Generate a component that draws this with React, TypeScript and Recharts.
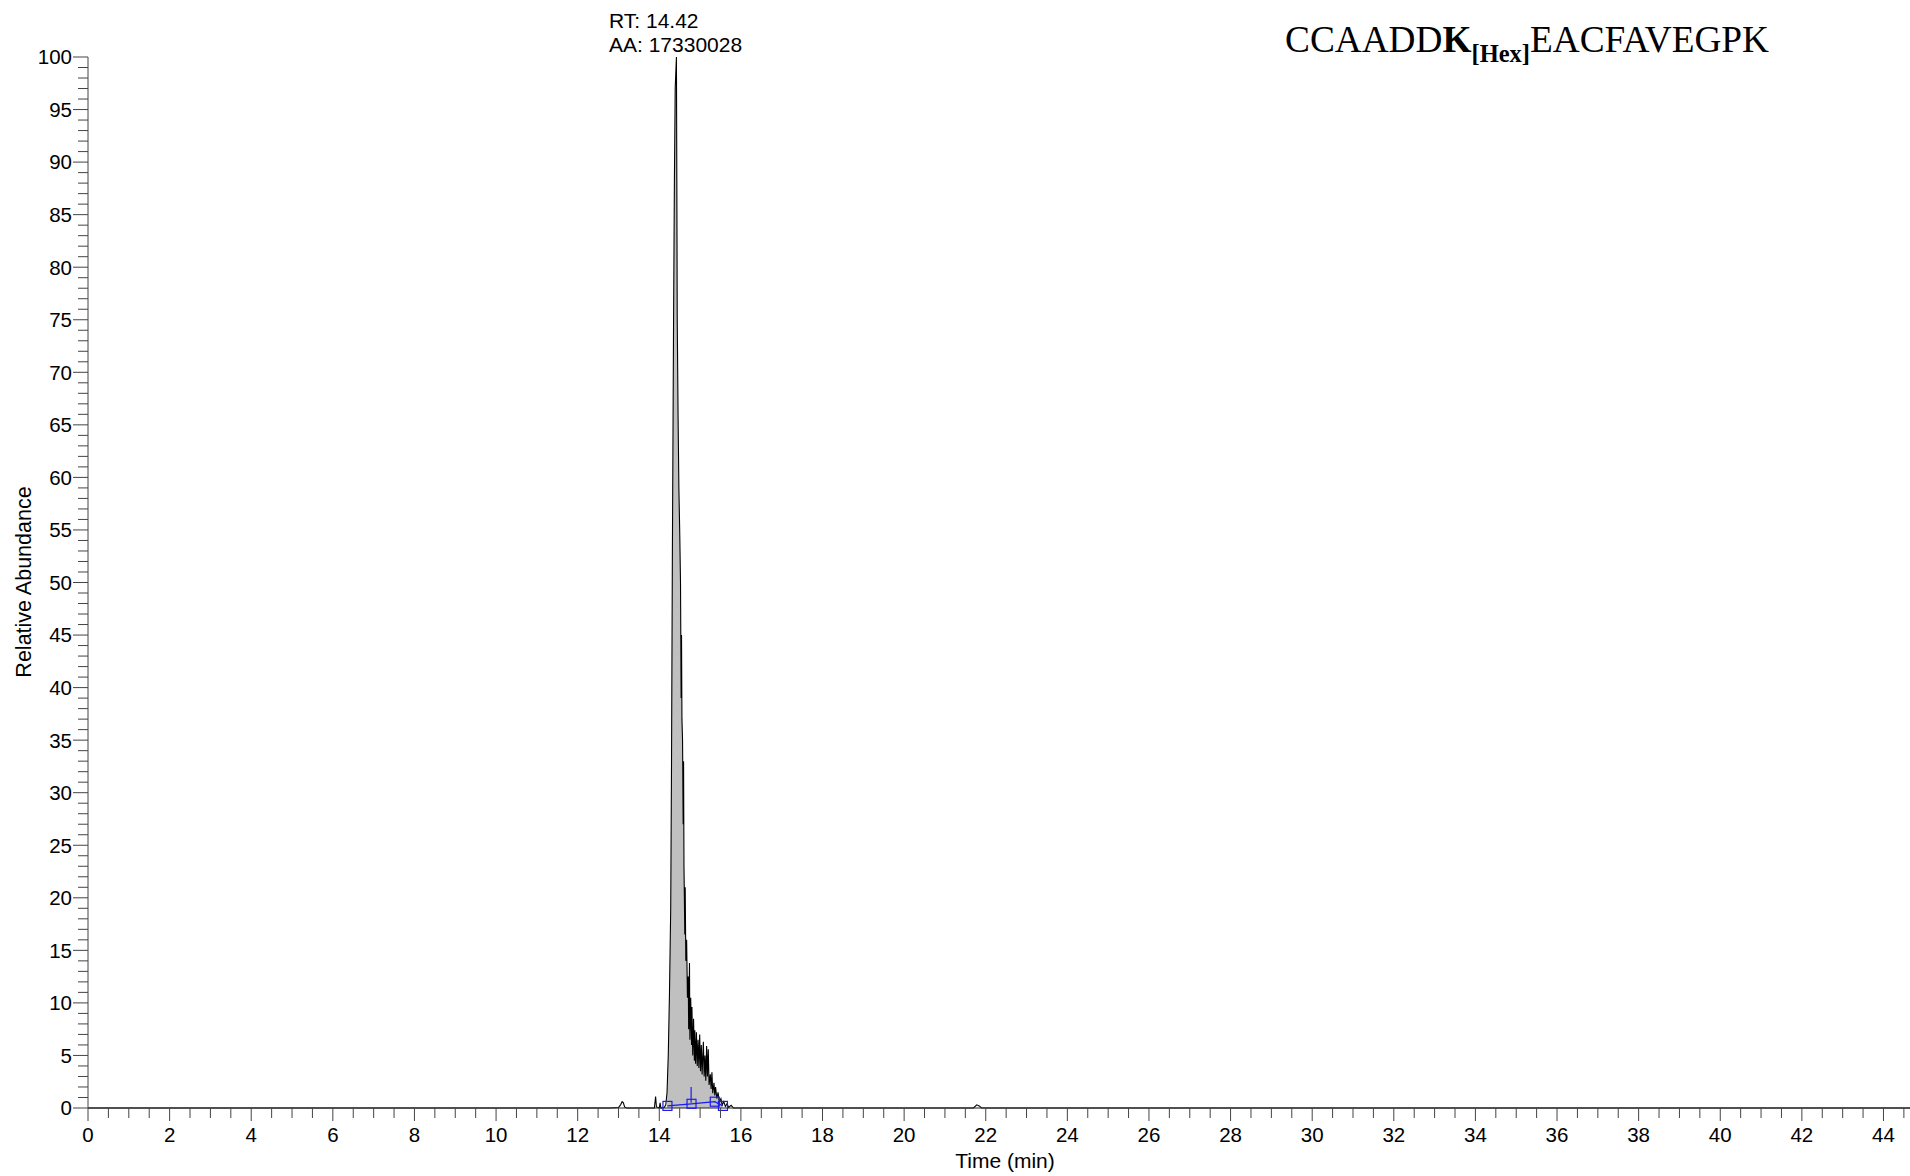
import React from 'react';
import { ComposedChart, Line, Area, Scatter, XAxis, YAxis, ReferenceLine } from 'recharts';

// Chromatogram trace: retention time (min) and relative abundance (%)
const TIME_MIN = [
  0, 6, 12.8, 13.0, 13.05, 13.09, 13.12, 13.15, 13.2, 13.88, 13.91, 13.93, 14.0, 14.02, 14.04,
  14.12, 14.16, 14.19, 14.22, 14.25, 14.28, 14.3, 14.32, 14.35, 14.37, 14.39, 14.42, 14.43, 14.44,
  14.46, 14.48, 14.5, 14.52, 14.535, 14.545, 14.555, 14.57, 14.585, 14.595, 14.605, 14.615, 14.625,
  14.635, 14.65, 14.67, 14.69, 14.71, 14.72, 14.74, 14.75, 14.77, 14.79, 14.8, 14.82, 14.84, 14.86,
  14.87, 14.89, 14.91, 14.93, 14.95, 14.97, 14.99, 15.01, 15.03, 15.05, 15.08, 15.1, 15.12, 15.14,
  15.16, 15.18, 15.2, 15.22, 15.25, 15.27, 15.29, 15.31, 15.34, 15.36, 15.38, 15.41, 15.44, 15.47,
  15.51, 15.54, 15.58, 15.62, 15.66, 15.7, 15.76, 15.82, 21.7, 21.78, 21.84, 21.9, 44.65,
];
const REL_ABUNDANCE = [
  0, 0, 0, 0.05, 0.3, 0.6, 0.5, 0.1, 0, 0, 1.1, 0.1, 0, 0.5, 0,
  0.05, 0.3, 1.5, 5, 11, 19, 33, 52, 75, 88, 97, 100, 88, 75,
  66, 59, 55, 50, 39, 45, 37, 35, 27, 33, 23, 20, 16.5,
  21, 14, 16, 10.5, 12.5, 7.5, 13.8, 6.5, 10.5, 6, 9.6, 5, 8.5, 4.5,
  7.4, 4.2, 7.2, 4, 6.5, 3.8, 7, 3.5, 6, 3.2, 6.3, 3, 5, 2.6,
  5.9, 3, 5.6, 2.2, 3.2, 1.8, 3.4, 1.4, 2.4, 1.2, 2.0, 0.9, 1.5, 0.6,
  0.9, 0.3, 0.6, 0.15, 0.4, 0.05, 0.25, 0, 0, 0.3, 0.2, 0, 0,
];

// Integrated peak window (shaded)
const INTEGRATION_START = 14.18;
const INTEGRATION_END = 15.56;

// Integration baseline markers
const BASELINE_TIME = [14.2, 14.79, 15.36, 15.56];
const BASELINE_VALUE = [0.2, 0.4, 0.6, 0.2];
const APEX_TIME = 14.78;
const APEX_MARK_RANGE = [0.5, 2.0];

// Axes
const X_DOMAIN = [0, 44.65];
const X_TICKS = Array.from({ length: 90 }, (_, i) => i * 0.5);
const Y_TICKS = Array.from({ length: 101 }, (_, i) => i);

const PEAK_RT = '14.42';
const PEAK_AREA = '17330028';

const chartData = TIME_MIN.map((t, i) => ({
  t,
  v: REL_ABUNDANCE[i],
  area: t >= INTEGRATION_START && t <= INTEGRATION_END ? REL_ABUNDANCE[i] : null,
}));
const baselineData = BASELINE_TIME.map((t, i) => ({ t, v: BASELINE_VALUE[i] }));

const SANS = "'Liberation Sans', Arial, Helvetica, sans-serif";
const SERIF = "'Liberation Serif', 'Times New Roman', serif";
const TICK_COLOR = '#444';
const TICK_FONT = 20.5;

const XTick = (props: any) => {
  const { x, y, payload } = props;
  const v = payload.value;
  const major = Math.abs(v % 2) < 1e-6;
  return (
    <g>
      <line x1={x} x2={x} y1={y} y2={y + (major ? 13 : 10)} stroke={TICK_COLOR} strokeWidth={1} />
      {major && (
        <text x={x} y={y + 34} textAnchor="middle" fontSize={TICK_FONT} fontFamily={SANS} fill="#000">
          {v}
        </text>
      )}
    </g>
  );
};

const YTick = (props: any) => {
  const { x, y, payload } = props;
  const v = payload.value;
  const major = v % 5 === 0;
  return (
    <g>
      <line x1={x - (major ? 15 : 10)} x2={x} y1={y} y2={y} stroke={TICK_COLOR} strokeWidth={1} />
      {major && (
        <text x={x - 16} y={y} dy="0.36em" textAnchor="end" fontSize={TICK_FONT} fontFamily={SANS} fill="#000">
          {v}
        </text>
      )}
    </g>
  );
};

const SquareMarker = (props: any) => {
  const { cx, cy } = props;
  if (cx == null || cy == null) return null;
  return <rect x={cx - 4.5} y={cy - 4.5} width={9} height={9} fill="none" stroke="#1c1cf0" strokeWidth={1.2} />;
};

export default function App() {
  return (
    <div style={{ position: 'absolute', left: 0, top: 0, width: 1910, height: 1176, background: '#fff' }}>
      <ComposedChart
        width={1910}
        height={1176}
        data={chartData}
        margin={{ top: 57, right: 0, bottom: 0, left: 0 }}
      >
        <XAxis
          dataKey="t"
          type="number"
          domain={X_DOMAIN}
          ticks={X_TICKS}
          interval={0}
          allowDataOverflow
          height={68}
          tickSize={0}
          tickMargin={0}
          tickLine={false}
          tick={<XTick />}
          axisLine={{ stroke: '#222', strokeWidth: 1.2 }}
        />
        <YAxis
          type="number"
          domain={[0, 100]}
          ticks={Y_TICKS}
          interval={0}
          width={88}
          tickSize={0}
          tickMargin={0}
          tickLine={false}
          tick={<YTick />}
          axisLine={{ stroke: TICK_COLOR, strokeWidth: 1 }}
        />
        <Area
          dataKey="area"
          type="linear"
          fill="#c0c0c0"
          fillOpacity={1}
          stroke="none"
          connectNulls={false}
          isAnimationActive={false}
        />
        <Line dataKey="v" type="linear" stroke="#000" strokeWidth={1.1} dot={false} isAnimationActive={false} />
        <ReferenceLine
          segment={[
            { x: APEX_TIME, y: APEX_MARK_RANGE[0] },
            { x: APEX_TIME, y: APEX_MARK_RANGE[1] },
          ]}
          stroke="#1c1cf0"
          strokeWidth={1.2}
        />
        <Scatter
          data={baselineData}
          dataKey="v"
          line={{ stroke: '#1c1cf0', strokeWidth: 1.2 }}
          shape={<SquareMarker />}
          isAnimationActive={false}
        />
      </ComposedChart>
      <svg
        width={1910}
        height={1176}
        style={{ position: 'absolute', left: 0, top: 0, pointerEvents: 'none' }}
      >
        <text x={609} y={28} fontSize={21} fontFamily={SANS} fill="#000">{`RT: ${PEAK_RT}`}</text>
        <text x={609} y={52} fontSize={21} fontFamily={SANS} fill="#000">{`AA: ${PEAK_AREA}`}</text>
        <text x={1285} y={52} fontSize={37.3} fontFamily={SERIF} fill="#000">
          CCAADD
          <tspan fontWeight="bold">K</tspan>
          <tspan fontWeight="bold" fontSize={24.5} dy={10}>[Hex]</tspan>
          <tspan dy={-10}>EACFAVEGPK</tspan>
        </text>
        <text
          x={24}
          y={582}
          transform="rotate(-90, 24, 582)"
          textAnchor="middle"
          dominantBaseline="central"
          fontSize={21.5}
          fontFamily={SANS}
          fill="#000"
        >
          Relative Abundance
        </text>
        <text x={1005} y={1168} textAnchor="middle" fontSize={21} fontFamily={SANS} fill="#000">
          Time (min)
        </text>
      </svg>
    </div>
  );
}
